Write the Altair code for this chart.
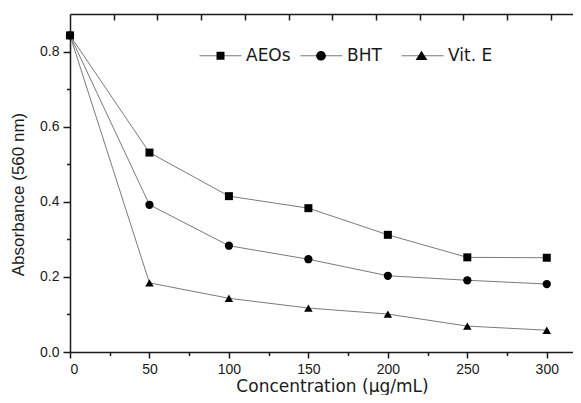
import altair as alt
import pandas as pd

# ---- data ----
conc = [0, 50, 100, 150, 200, 250, 300]
aeos = [0.843, 0.531, 0.415, 0.383, 0.312, 0.252, 0.251]
bht = [0.843, 0.392, 0.283, 0.247, 0.203, 0.191, 0.181]
vite = [0.843, 0.184, 0.143, 0.117, 0.101, 0.069, 0.058]
series_names = ["AEOs", "BHT", "Vit. E"]
x_ticks = [0, 25, 50, 75, 100, 125, 150, 175, 200, 225, 250, 275, 300]
y_ticks = [0.0, 0.1, 0.2, 0.3, 0.4, 0.5, 0.6, 0.7, 0.8]
top_ticks = [27.5, 55, 82.5, 110, 137.5, 165, 192.5, 220, 247.5, 275, 302.5]

rows = []
for name, vals in zip(series_names, [aeos, bht, vite]):
    for c, v in zip(conc, vals):
        rows.append({"conc": c, "abs": v, "series": name, "key": name, "lkey": name})
df = pd.DataFrame(rows)

FONT = "Liberation Sans"
WIDE = "DejaVu Sans"
W, H = 503, 338
INK = "#1a1a1a"
LINE = "#7a7a7a"

xscale = alt.Scale(domain=[0, 316.5], nice=False, zero=False)
yscale = alt.Scale(domain=[0, 0.9], nice=False)

x_bottom = alt.Axis(
    values=x_ticks,
    labelExpr="datum.value % 50 === 0 ? datum.label : ''",
    format="d",
    tickSize={"condition": {"test": "datum.value % 50 === 0", "value": 6}, "value": 3.5},
    tickWidth=1.5, domainWidth=1.5, domainColor=INK, tickColor=INK,
    labelFont=FONT, labelFontSize=14, labelColor=INK, labelPadding=4,
    grid=False,
    title="Concentration (\u03bcg/mL)", titleFont=WIDE, titleFontSize=17,
    titleFontWeight="normal", titleColor=INK,
    titleX=262, titleY=39, titleBaseline="alphabetic", titleAnchor="middle",
)
y_left = alt.Axis(
    values=y_ticks,
    labelExpr="round(datum.value*10) % 2 === 0 ? format(datum.value, '.1f') : ''",
    tickSize={"condition": {"test": "round(datum.value*10) % 2 === 0", "value": 7}, "value": 3.5},
    tickWidth=1.5, domainWidth=1.5, domainColor=INK, tickColor=INK,
    labelFont=FONT, labelFontSize=14, labelColor=INK, labelPadding=4,
    grid=False,
    title="Absorbance (560 nm)", titleFont=FONT, titleFontSize=17,
    titleFontWeight="normal", titleColor=INK,
    titleX=-52, titleY=180, titleBaseline="middle", titleAnchor="middle", titleAngle=270,
)
x_top = alt.Axis(
    values=top_ticks, labels=False, title=None, orient="bottom", offset=-H,
    tickSize=6, tickWidth=1.5, domainWidth=1.5, domainColor=INK,
    tickColor=INK, grid=False,
)

LEG_X, LEG_Y = 129, 20
common_legend = dict(
    orient="none", direction="horizontal", legendX=LEG_X, legendY=LEG_Y,
    title=None, labelFont=WIDE, labelFontSize=17, labelColor=INK,
    symbolSize=1764, symbolStrokeWidth=1, labelOffset=4, padding=0, gridAlign="all",
)

yenc = alt.Y("abs:Q", scale=yscale, axis=y_left)

lines = alt.Chart(df).mark_line(strokeWidth=1).encode(
    x=alt.X("conc:Q", scale=xscale, axis=x_bottom),
    y=yenc,
    detail="series:N",
    color=alt.Color("key:N", scale=alt.Scale(domain=series_names, range=[LINE, LINE, LINE]),
                    legend=alt.Legend(symbolType="stroke", symbolStrokeColor=LINE,
                                      columnPadding=7, **common_legend)),
)

points = alt.Chart(df).mark_point(filled=True, color="black", opacity=1).encode(
    x=alt.X("conc:Q", scale=xscale, axis=None),
    y=yenc,
    shape=alt.Shape("series:N", scale=alt.Scale(domain=series_names,
                    range=["square", "circle", "triangle-up"]), legend=None),
    size=alt.Size("series:N", scale=alt.Scale(domain=series_names, range=[64, 72, 115]),
                  legend=None),
)

marker_paths = [
    "M-0.19,-0.19H0.19V0.19H-0.19Z",
    "M-0.23,0A0.23,0.23 0 1,0 0.23,0A0.23,0.23 0 1,0 -0.23,0Z",
    "M0,-0.24L0.28,0.2H-0.28Z",
]
legend_layer = alt.Chart(df).mark_point(filled=True, color="black", opacity=0).encode(
    x=alt.X("conc:Q", scale=xscale, axis=x_top),
    y=yenc,
    shape=alt.Shape("lkey:N", scale=alt.Scale(domain=series_names, range=marker_paths),
                    legend=alt.Legend(symbolFillColor="black", symbolStrokeColor="black",
                                      symbolOpacity=1, labelExpr="''", columnPadding=53.5,
                                      **common_legend)),
)

chart = alt.layer(lines, points, legend_layer).resolve_scale(
    shape="independent", size="independent", color="independent"
).resolve_axis(x="independent").resolve_legend(
    shape="independent", color="independent"
).properties(
    width=W, height=H,
    padding={"left": 62, "top": 6, "right": 0, "bottom": 43},
    autosize="none",
).configure_view(stroke="transparent")

chart.save("out.html", embed_options={"renderer": "svg", "actions": False})
